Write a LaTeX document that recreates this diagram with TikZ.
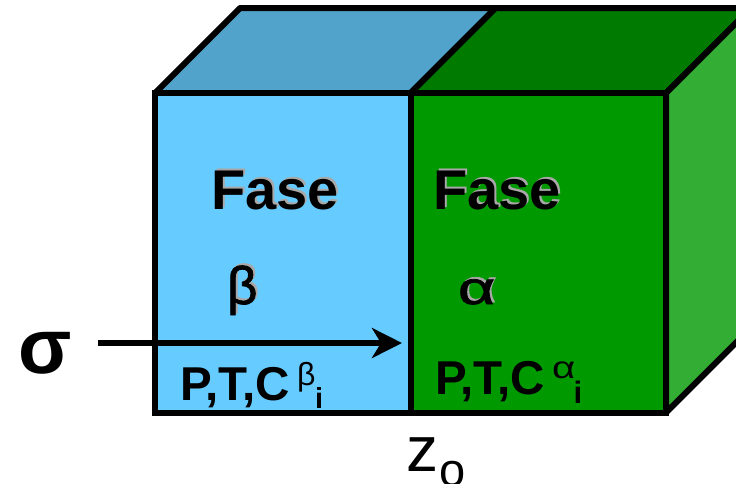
\documentclass[tikz,border=0pt]{standalone}
\usepackage{fontspec}
\setmainfont{Liberation Sans}
\usetikzlibrary{arrows.meta}
\definecolor{bluef}{HTML}{66CCFF}
\definecolor{bluet}{HTML}{52A3CC}
\definecolor{greenf}{HTML}{009900}
\definecolor{greent}{HTML}{007A00}
\definecolor{greens}{HTML}{33AD33}
\definecolor{shadowg}{HTML}{A8A8A8}
\newcommand{\shadowtext}[5]{% name, x, y, font, text
  \node[txt,text=shadowg] at (#2+2,#3-2) {#4#5};
  \node[txt] (#1) at (#2,#3) {#4#5};
}
\tikzset{
  face/.style={draw=black,line width=6pt,line join=miter},
  backface/.style={draw=black,line width=6pt,line join=round},
  txt/.style={inner sep=0pt,outer sep=0pt,text=black,anchor=base west},
}
\begin{document}
\begin{tikzpicture}[x=1pt,y=-1pt]
\useasboundingbox (0,0) rectangle (736,483);
\clip (0,0) rectangle (736,483);
\coordinate (fl) at (155,93);
\coordinate (fm) at (410.5,93);
\coordinate (fr) at (666,93);
\coordinate (bl) at (155,412.5);
\coordinate (bm) at (410.5,412.5);
\coordinate (br) at (666,412.5);
\coordinate (tl) at (240,8);
\coordinate (tm) at (495.5,8);
\coordinate (tr) at (751,8);
\coordinate (sr) at (751,327.5);
\filldraw[backface,fill=bluet] (fl)--(tl)--(tm)--(fm)--cycle;
\filldraw[backface,fill=greent] (fm)--(tm)--(tr)--(fr)--cycle;
\filldraw[backface,fill=greens] (fr)--(tr)--(sr)--(br)--cycle;
\filldraw[face,fill=bluef] (fl)--(fm)--(bm)--(bl)--cycle;
\filldraw[face,fill=greenf] (fm)--(fr)--(br)--(bm)--cycle;
\shadowtext{fa}{211}{209}{\fontsize{56}{56}\selectfont\bfseries}{Fase}
\shadowtext{fb}{433}{209}{\fontsize{56}{56}\selectfont\bfseries}{Fase}
\shadowtext{gb}{227}{304}{\fontsize{53}{53}\selectfont\addfontfeature{FakeBold=1.5}}{β}
\shadowtext{ga}{458}{304}{\fontsize{46}{46}\selectfont\addfontfeature{FakeBold=1.5}}{\scalebox{1.4}[1]{α}}
\node[txt] (pb) at (180,400) {\fontsize{47.5}{47.5}\selectfont\bfseries P,T,C};
\node[txt] (sb) at (297,385) {\fontsize{32}{32}\selectfont β};
\node[txt] (ib) at (315,408) {\fontsize{29}{29}\selectfont\bfseries i};
\node[txt] (pa) at (435,394) {\fontsize{47.5}{47.5}\selectfont\bfseries P,T,C};
\node[txt] (sa) at (552,378) {\fontsize{31}{31}\selectfont\scalebox{1.3}[1]{α}};
\node[txt] (ia) at (573.5,403) {\fontsize{31}{31}\selectfont\bfseries i};
\node[txt] (sig) at (18,373) {\fontsize{78}{78}\selectfont\bfseries σ};
\coordinate (as) at (98,343);
\coordinate (ae) at (402,343);
\draw[line width=5.5pt,-{Stealth[length=30pt,width=30pt,inset=9pt]}] (as)--(ae);
\node[txt] (z) at (406,471) {\fontsize{64}{64}\selectfont z};
\node[txt] (o) at (439,486) {\fontsize{47}{47}\selectfont o};
\end{tikzpicture}
\end{document}
